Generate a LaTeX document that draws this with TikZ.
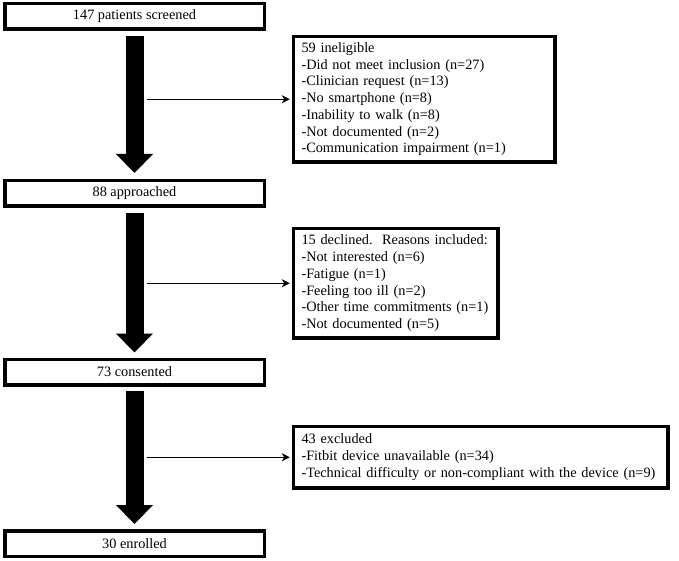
\documentclass[tikz,border=0pt]{standalone}
\usepackage{fontspec}
\setmainfont{Liberation Serif}
\usepackage{tikz}
\usetikzlibrary{arrows.meta}
\tikzset{
	stagebox/.style={draw, line width=3.5pt, minimum width=259.5pt, minimum height=25.5pt, inner sep=0pt, font=\fontsize{14.3}{16.7}\selectfont},
	reasonbox/.style 2 args={draw, line width=3.5pt, text width=#1, minimum height=#2, inner xsep=8pt, inner ysep=0pt, align=left, anchor=north west, font=\fontsize{14.3}{16.7}\selectfont},
	bigarrow/.style={line width=18pt, -{Triangle[width=36pt,length=19pt]}},
	thinarrow/.style={line width=1.1pt, -{Stealth[length=8pt,width=8pt,inset=2.5pt]}}
}
\begin{document}
\begin{tikzpicture}[x=1pt, y=-1pt]
			%%%%% START %%%%%
			\useasboundingbox (0, 0) rectangle (679, 561);
			
			\node[stagebox] (screened) at (134.5, 16.5) {147 patients screened};
			\node[stagebox] (approached) at (134.5, 193.5) {88 approached};
			\node[stagebox] (consented) at (134.5, 372) {73 consented};
			\node[stagebox] (enrolled) at (134.5, 543.5) {30 enrolled};
			
			\node[reasonbox={245.5pt}{125.5pt}] (ineligible) at (291.75, 34.75) {59 ineligible\\
				-Did not meet inclusion (n=27)\\
				-Clinician request (n=13)\\
				-No smartphone (n=8)\\
				-Inability to walk (n=8)\\
				-Not documented (n=2)\\
				-Communication impairment (n=1)};
			\node[reasonbox={188.5pt}{109.5pt}] (declined) at (291.75, 226.75) {15 declined.\ \ Reasons included:\\
				-Not interested (n=6)\\
				-Fatigue (n=1)\\
				-Feeling too ill (n=2)\\
				-Other time commitments (n=1)\\
				-Not documented (n=5)};
			\node[reasonbox={358.5pt}{61.5pt}] (excluded) at (291.75, 424.75) {43 excluded\\
				-Fitbit device unavailable (n=34)\\
				-Technical difficulty or non-compliant with the device (n=9)};
			
			\draw[bigarrow] ([yshift=-5pt]screened.south) -- ([yshift=6pt]approached.north);
			\draw[bigarrow] ([yshift=-5pt]approached.south) -- ([yshift=5pt]consented.north);
			\draw[bigarrow] ([yshift=-4pt]consented.south) -- ([yshift=5pt]enrolled.north);
			
			\coordinate (off1) at (147, 0 |- ineligible.west);
			\coordinate (off2) at (147, 0 |- declined.west);
			\coordinate (off3) at (147, 0 |- excluded.west);
			\draw[thinarrow] (off1) -- ([xshift=-2pt]ineligible.west);
			\draw[thinarrow] (off2) -- ([xshift=-2pt]declined.west);
			\draw[thinarrow] (off3) -- ([xshift=-2pt]excluded.west);
			
			%%%%% END %%%%%
		\end{tikzpicture}
\end{document}
